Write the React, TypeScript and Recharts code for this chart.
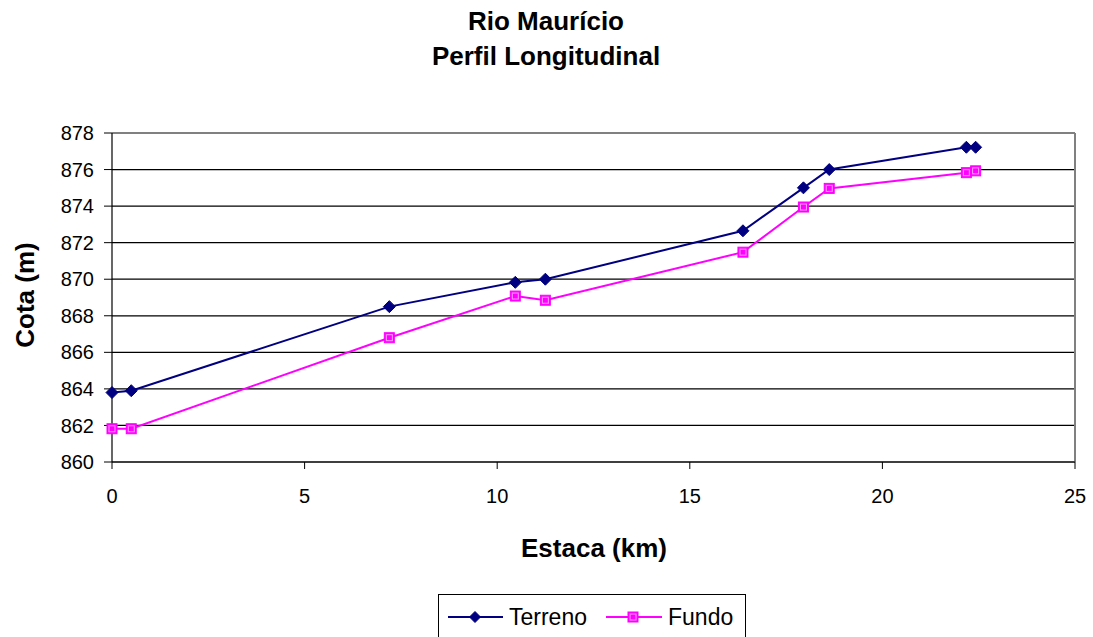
import React from "react";
import {
  LineChart,
  Line,
  XAxis,
  YAxis,
  CartesianGrid,
  ReferenceLine,
  Legend,
  Label,
} from "recharts";

// Estaca (km) for each surveyed section
const estacaKm = [0, 0.5, 7.2, 10.47, 11.25, 16.38, 17.95, 18.62, 22.18, 22.42];
const terreno = [863.8, 863.9, 868.5, 869.83, 870.0, 872.65, 875.0, 876.0, 877.22, 877.22];
const fundo = [861.82, 861.82, 866.8, 869.08, 868.85, 871.48, 873.95, 874.97, 875.83, 875.93];

const xTicks = [0, 5, 10, 15, 20, 25];
const yTicks = [860, 862, 864, 866, 868, 870, 872, 874, 876, 878];

const FONT = '"Liberation Sans", Arial, sans-serif';
const NAVY = "#000080";
const MAGENTA = "#FF00FF";

const terrenoData = estacaKm.map((x, i) => ({ x, y: terreno[i] }));
const fundoData = estacaKm.map((x, i) => ({ x, y: fundo[i] }));

function Diamond({ cx, cy, r = 6 }: { cx: number; cy: number; r?: number }) {
  return (
    <path
      d={`M${cx},${cy - r}L${cx + r},${cy}L${cx},${cy + r}L${cx - r},${cy}Z`}
      fill={NAVY}
      stroke={NAVY}
    />
  );
}

function Square({ cx, cy, s = 5 }: { cx: number; cy: number; s?: number }) {
  return (
    <g>
      <rect x={cx - s} y={cy - s} width={s * 2} height={s * 2} fill={MAGENTA} stroke={MAGENTA} />
      <rect x={cx - s + 2} y={cy - s + 2} width={s * 2 - 4} height={s * 2 - 4} fill="none" stroke="#ff9cff" strokeWidth={1} />
    </g>
  );
}

function LegendBox() {
  return (
    <div
      style={{
        border: "1px solid #000",
        width: 308,
        height: 56,
        boxSizing: "border-box",
        background: "#fff",
        position: "relative",
      }}
    >
      <svg width={308} height={56} style={{ position: "absolute", left: 0, top: 0 }}>
        <line x1={9} x2={64} y1={22} y2={22} stroke={NAVY} strokeWidth={2} />
        <Diamond cx={36} cy={22} r={5.5} />
        <text x={70} y={30} fontFamily={FONT} fontSize={23} fill="#000">Terreno</text>
        <line x1={167} x2={223} y1={22} y2={22} stroke={MAGENTA} strokeWidth={2} />
        <Square cx={194} cy={22} s={5} />
        <text x={229} y={30} fontFamily={FONT} fontSize={23} fill="#000">Fundo</text>
      </svg>
    </div>
  );
}

export default function App() {
  return (
    <div
      style={{
        position: "absolute",
        left: 0,
        top: 0,
        width: 1093,
        height: 637,
        overflow: "hidden",
        background: "#fff",
      }}
    >
      <svg width={1093} height={80} style={{ position: "absolute", left: 0, top: 0 }}>
        <text x={546} y={30} textAnchor="middle" fontFamily={FONT} fontWeight="bold" fontSize={26}>
          Rio Maurício
        </text>
        <text x={546} y={65} textAnchor="middle" fontFamily={FONT} fontWeight="bold" fontSize={26}>
          Perfil Longitudinal
        </text>
      </svg>
      <LineChart
        width={1093}
        height={637}
        margin={{ top: 133, right: 18, bottom: 0, left: 0 }}
        style={{ fontFamily: FONT }}
      >
        <CartesianGrid vertical={false} stroke="#000" strokeWidth={1.2} />
        <XAxis
          type="number"
          dataKey="x"
          domain={[0, 25]}
          ticks={xTicks}
          interval={0}
          height={175}
          tickSize={7}
          tickMargin={20}
          axisLine={{ stroke: "#000", strokeWidth: 1.2 }}
          tickLine={{ stroke: "#000" }}
          tick={{ fill: "#000", fontSize: 20, fontFamily: FONT }}
        >
          <Label
            content={() => (
              <text x={594} y={557} textAnchor="middle" fontFamily={FONT} fontWeight="bold" fontSize={26} fill="#000">
                Estaca (km)
              </text>
            )}
          />
        </XAxis>
        <YAxis
          type="number"
          domain={[860, 878]}
          ticks={yTicks}
          interval={0}
          width={112}
          tickSize={8}
          tickMargin={10}
          axisLine={{ stroke: "#000", strokeWidth: 1.2 }}
          tickLine={{ stroke: "#000" }}
          tick={{ fill: "#000", fontSize: 20, fontFamily: FONT }}
        >
          <Label
            content={() => (
              <text
                x={34}
                y={295}
                transform="rotate(-90 34 295)"
                textAnchor="middle"
                fontFamily={FONT}
                fontWeight="bold"
                fontSize={26}
                fill="#000"
              >
                Cota (m)
              </text>
            )}
          />
        </YAxis>
        <ReferenceLine y={878} stroke="#808080" strokeWidth={2} />
        <ReferenceLine x={25} stroke="#808080" strokeWidth={2} />
        <Line
          data={terrenoData}
          dataKey="y"
          name="Terreno"
          stroke={NAVY}
          strokeWidth={2}
          isAnimationActive={false}
          dot={(p: any) => <Diamond key={`t${p.index}`} cx={p.cx} cy={p.cy} />}
          activeDot={false}
        />
        <Line
          data={fundoData}
          dataKey="y"
          name="Fundo"
          stroke={MAGENTA}
          strokeWidth={2}
          isAnimationActive={false}
          dot={(p: any) => <Square key={`f${p.index}`} cx={p.cx} cy={p.cy} />}
          activeDot={false}
        />
        <Legend
          layout="horizontal"
          verticalAlign="middle"
          align="center"
          content={() => <LegendBox />}
          wrapperStyle={{ left: 438, top: 594, width: 308, height: 56 }}
        />
      </LineChart>
    </div>
  );
}
